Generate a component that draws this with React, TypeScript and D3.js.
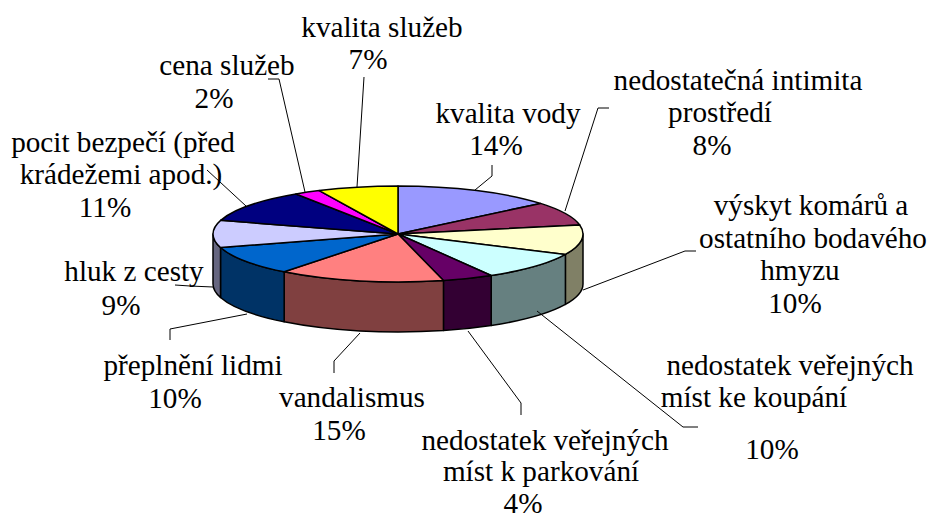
import React from "react";
import * as d3 from "d3";

const categories = ["kvalita vody","nedostatečná intimita prostředí","výskyt komárů a ostatního bodavého hmyzu","nedostatek veřejných míst ke koupání","nedostatek veřejných míst k parkování","vandalismus","přeplnění lidmi","hluk z cesty","pocit bezpečí (před krádežemi apod.)","cena služeb","kvalita služeb"];
const values = [14,8,10,9.6,4.45,14.5,9.9,9.15,11.1,2.3,7];
const topColors = ["#9999FF","#993366","#FFFFCC","#CCFFFF","#660066","#FF8080","#0066CC","#CCCCFF","#000080","#FF00FF","#FFFF00"];
const sideColors = ["#666699","#662244","#808066","#668080","#330033","#804040","#003366","#666680","#000040","#800080","#808000"];

// [text, centre x, baseline y]
const labelLines: [string, number, number][][] = [
  [["kvalita vody",508,123],["14%",496,155]],
  [["nedostatečná intimita",738,90],["prostředí",720,122],["8%",712,155]],
  [["výskyt komárů a",811,215],["ostatního bodavého",813,248],["hmyzu",800,280],["10%",795,313]],
  [["nedostatek veřejných",790,375],["míst ke koupání",754,407],["10%",772,459]],
  [["nedostatek veřejných",545,450],["míst k parkování",541,481],["4%",523,513]],
  [["vandalismus",352,407],["15%",339,440]],
  [["přeplnění lidmi",193,375],["10%",175,408]],
  [["hluk z cesty",134,281],["9%",121,315]],
  [["pocit bezpečí (před",123,152],["krádežemi apod.)",121,184],["11%",105,217]],
  [["cena služeb",227,75],["2%",214,108]],
  [["kvalita služeb",382,37],["7%",368,69]],
];
const leaders: [number, number][][] = [
  [[492,165],[492,176],[475,190]],
  [[609,108],[598,108],[565,211]],
  [[696,251],[685,251],[583,290]],
  [[698,427],[683,427],[537,311]],
  [[521,415],[521,403],[468,331]],
  [[334,373],[334,361],[360,333]],
  [[170,340],[170,329],[247,314]],
  [[175,285],[190,286],[213,287]],
  [[207,170],[246,206]],
  [[268,79],[279,79],[305,192]],
  [[364,77],[357,187]],
];

const cx = 398, cy = 234, rx = 185, ry = 48, depth = 50;

export default function App() {
  const arcs = d3.pie<number>().sort(null)(values);
  const arcGen = d3.arc<d3.PieArcDatum<number>>().innerRadius(0).outerRadius(rx);
  const pt = (a: number, dy = 0): [number, number] => [cx + rx * Math.sin(a), cy - ry * Math.cos(a) + dy];
  const lo = Math.PI / 2, hi = (3 * Math.PI) / 2;
  const sides = arcs
    .map((d, i) => ({ a0: Math.max(d.startAngle, lo), a1: Math.min(d.endAngle, hi), i }))
    .filter((s) => s.a1 > s.a0)
    .map((s) => {
      const p0 = pt(s.a0), p1 = pt(s.a1), q1 = pt(s.a1, depth), q0 = pt(s.a0, depth);
      return {
        i: s.i,
        d: `M${p0[0]},${p0[1]}A${rx},${ry} 0 0 1 ${p1[0]},${p1[1]}L${q1[0]},${q1[1]}A${rx},${ry} 0 0 0 ${q0[0]},${q0[1]}Z`,
      };
    });
  const lineGen = d3.line();
  return (
    <svg width={931} height={516} style={{ position: "absolute", left: 0, top: 0, background: "#fff" }}
      fontFamily="'Liberation Serif', serif" fontSize={29.2}>
      {sides.map((s) => (
        <path key={s.i} d={s.d} fill={sideColors[s.i]} stroke="#000" strokeWidth={1.5} strokeLinejoin="round" />
      ))}
      <g transform={`translate(${cx},${cy}) scale(1,${ry / rx})`}>
        {arcs.map((d, i) => (
          <path key={categories[i]} d={arcGen(d) ?? ""} fill={topColors[i]} stroke="#000" strokeWidth={1.5}
            strokeLinejoin="round" style={{ vectorEffect: "non-scaling-stroke" }} />
        ))}
      </g>
      {leaders.map((l, i) => (
        <path key={i} d={lineGen(l) ?? ""} fill="none" stroke="#000" strokeWidth={1} />
      ))}
      {labelLines.map((lines, i) =>
        lines.map(([t, x, y], j) => (
          <text key={`${i}-${j}`} x={x} y={y} textAnchor="middle" fill="#000">{t}</text>
        ))
      )}
    </svg>
  );
}
